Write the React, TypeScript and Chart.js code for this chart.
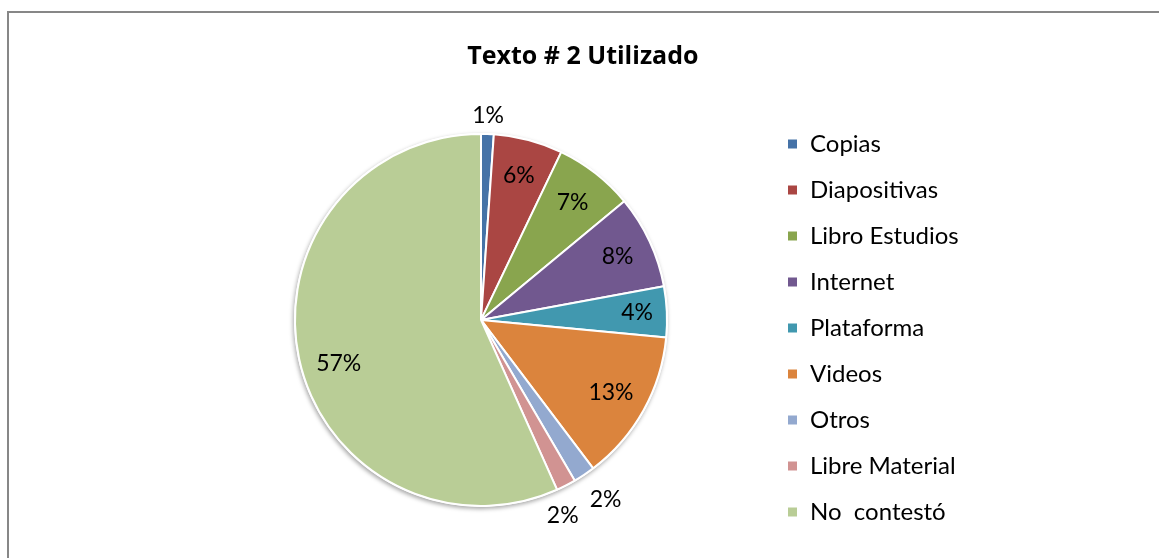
import React, { useEffect, useRef } from 'react';
import { Chart, registerables } from 'chart.js';

Chart.register(...registerables);

const categories = ['Copias', 'Diapositivas', 'Libro Estudios', 'Internet', 'Plataforma', 'Videos', 'Otros', 'Libre Material', 'No  contestó'];
const percentages = [1.1, 6.0, 6.9, 8.1, 4.4, 13.2, 1.9, 1.7, 56.7];
const sliceColors = ['#4572A7', '#AA4643', '#89A54E', '#71588F', '#4198AF', '#DB843D', '#93A9CF', '#D19392', '#B9CD96'];
const chartTitle = 'Texto # 2 Utilizado';

// label placement style (per slice): angle nudge in degrees, radial distance
// (fraction of radius when inside, extra px beyond radius when outside)
const labelPlacement = [
  { da: 0, inside: false, d: 18 },
  { da: 0, inside: true, d: 0.8 },
  { da: 0, inside: true, d: 0.8 },
  { da: 0, inside: true, d: 0.81 },
  { da: 0, inside: true, d: 0.84 },
  { da: 0, inside: true, d: 0.8 },
  { da: -1, inside: false, d: 33 },
  { da: 4.5, inside: false, d: 26 },
  { da: -5, inside: true, d: 0.8 },
];

const W = 1159;
const H = 558;
const FONT = 'Lato';
const LEGEND_FS = 24;
const LEGEND_PAD = 22;
const LEGEND_LEFT = 765;
const PIE_CX = 481;
const PIE_R = 186;

const framePlugin = {
  id: 'frame',
  beforeDraw(chart: any) {
    const ctx = chart.ctx;
    ctx.save();
    ctx.fillStyle = '#ffffff';
    ctx.fillRect(0, 0, W, H);
    ctx.fillStyle = '#878787';
    ctx.fillRect(7, 11, W - 7, 2);
    ctx.fillRect(7, 11, 2, H - 11);
    ctx.restore();
  },
};

const shadowPlugin = {
  id: 'pieShadow',
  beforeDatasetsDraw(chart: any) {
    const meta = chart.getDatasetMeta(0);
    if (!meta.data.length) return;
    const el = meta.data[0];
    const ctx = chart.ctx;
    ctx.save();
    ctx.shadowColor = 'rgba(0,0,0,0.35)';
    ctx.shadowBlur = 4;
    ctx.shadowOffsetX = -1;
    ctx.shadowOffsetY = 2;
    ctx.fillStyle = '#ffffff';
    ctx.beginPath();
    ctx.arc(el.x, el.y, el.outerRadius + 1, 0, Math.PI * 2);
    ctx.fill();
    ctx.restore();
  },
};

const labelPlugin = {
  id: 'pctLabels',
  afterDatasetsDraw(chart: any) {
    const meta = chart.getDatasetMeta(0);
    const ctx = chart.ctx;
    const values = chart.data.datasets[0].data as number[];
    const total = values.reduce((a, b) => a + b, 0);
    ctx.save();
    ctx.font = `23px ${FONT}`;
    ctx.fillStyle = '#000000';
    ctx.textAlign = 'center';
    ctx.textBaseline = 'middle';
    meta.data.forEach((el: any, i: number) => {
      const pct = (values[i] / total) * 100;
      const pl = labelPlacement[i];
      const mid = (el.startAngle + el.endAngle) / 2 + (pl.da * Math.PI) / 180;
      const dist = pl.inside ? el.outerRadius * pl.d : el.outerRadius + pl.d;
      const x = el.x + Math.cos(mid) * dist;
      const y = el.y + Math.sin(mid) * dist;
      ctx.fillText(`${Math.round(pct)}%`, x, y);
    });
    ctx.restore();
  },
};

export default function App() {
  const canvasRef = useRef<HTMLCanvasElement | null>(null);

  useEffect(() => {
    const canvas = canvasRef.current;
    if (!canvas) return;
    const mctx = document.createElement('canvas').getContext('2d')!;
    mctx.font = `${LEGEND_FS}px ${FONT}`;
    const maxText = Math.max(...categories.map((c) => mctx.measureText(c).width));
    const legendWidth = LEGEND_PAD + 11 + LEGEND_FS / 2 + maxText + 10;
    const padRight = W - LEGEND_LEFT - legendWidth;
    const padLeft = 2 * PIE_CX - LEGEND_LEFT;

    const chart = new Chart(canvas, {
      type: 'pie',
      data: {
        labels: categories,
        datasets: [
          {
            data: percentages,
            backgroundColor: sliceColors,
            borderColor: '#ffffff',
            borderWidth: 2,
          },
        ],
      },
      options: {
        responsive: false,
        animation: false,
        radius: PIE_R,
        layout: { padding: { left: padLeft, right: padRight, top: 0, bottom: 0 } },
        plugins: {
          title: {
            display: true,
            text: chartTitle,
            color: '#000000',
            font: { family: 'Open Sans', size: 25, weight: 'bold', lineHeight: 1.2 },
            padding: { top: 42, bottom: 9.8 },
          },
          legend: {
            position: 'right',
            fullSize: false,
            title: { display: true, text: '', padding: 0, font: { size: 16, lineHeight: 1 } },
            labels: {
              boxWidth: 11,
              boxHeight: 11,
              padding: LEGEND_PAD,
              color: '#000000',
              font: { family: FONT, size: LEGEND_FS },
            },
          },
          tooltip: { enabled: false },
        },
      } as any,
      plugins: [framePlugin, shadowPlugin, labelPlugin],
    });
    return () => chart.destroy();
  }, []);

  return (
    <div style={{ position: 'absolute', left: 0, top: 0, width: W, height: H }}>
      <canvas ref={canvasRef} width={W} height={H} style={{ display: 'block' }} />
    </div>
  );
}
